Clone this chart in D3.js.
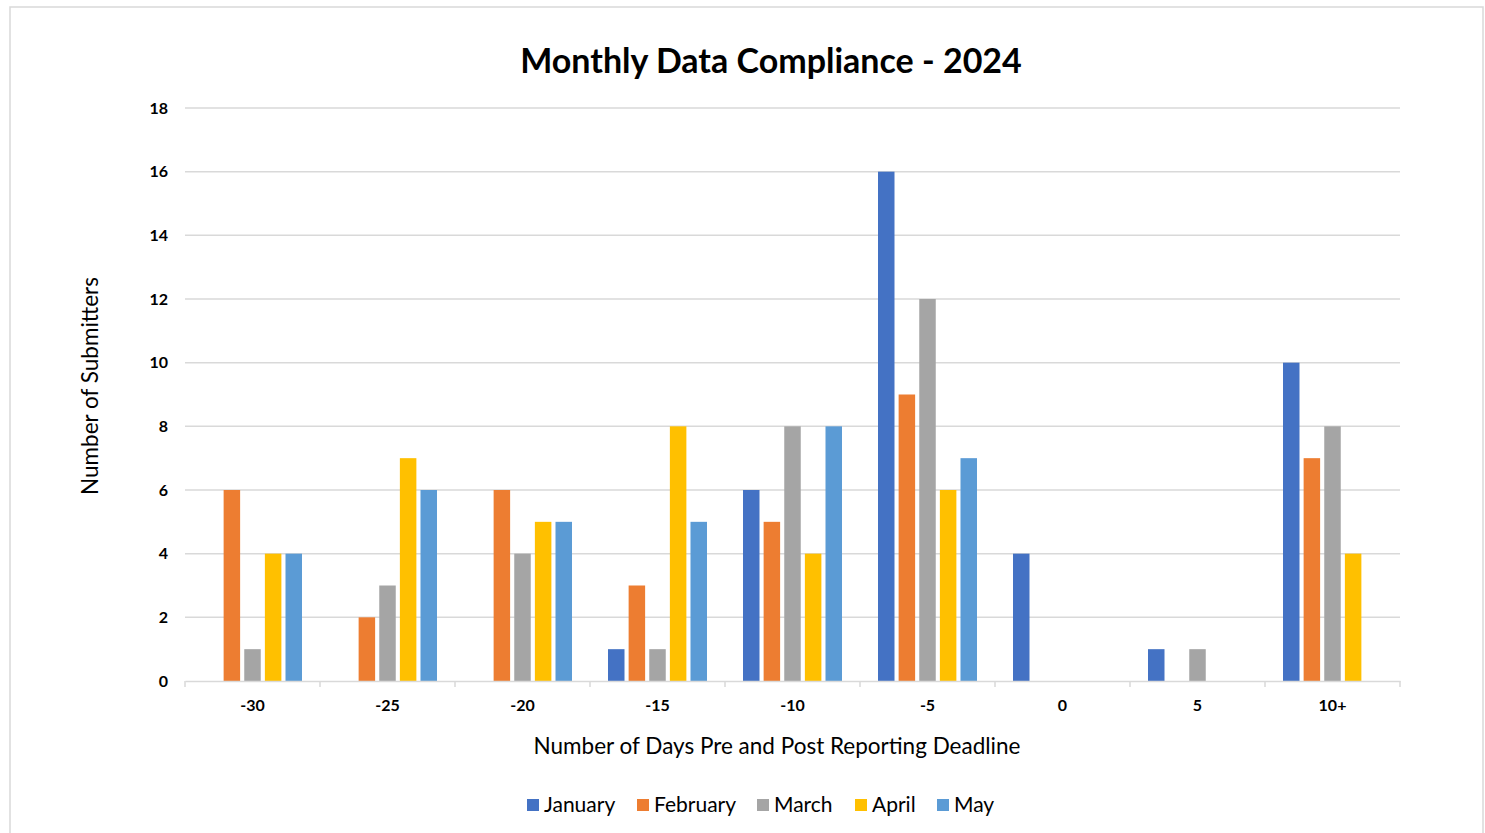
<!DOCTYPE html>
<html>
<head>
<meta charset="utf-8">
<script src="https://cdn.jsdelivr.net/npm/d3@7"></script>
<style>
  body { margin: 0; background: #fff; }
  text { font-family: Lato, "Open Sans", sans-serif; fill: #000; }
</style>
</head>
<body>
<svg id="drawing_region"></svg>
<script>
const categories = ['-30', '-25', '-20', '-15', '-10', '-5', '0', '5', '10+'];
const months = ['January', 'February', 'March', 'April', 'May'];
const january  = [0, 0, 0, 1, 6, 16, 4, 1, 10];
const february = [6, 2, 6, 3, 5, 9, 0, 0, 7];
const march    = [1, 3, 4, 1, 8, 12, 0, 1, 8];
const april    = [4, 7, 5, 8, 4, 6, 0, 0, 4];
const may      = [4, 6, 5, 5, 8, 7, 0, 0, 0];
const yticks = [0, 2, 4, 6, 8, 10, 12, 14, 16, 18];
const colors = ['#4472C4', '#ED7D31', '#A5A5A5', '#FFC000', '#5B9BD5'];

const series = [january, february, march, april, may];

const config = {
  width: 1485,
  height: 833,
  margin: {top: 108, right: 85, bottom: 152, left: 185}
};

const svg = d3.select('#drawing_region')
    .attr('width', config.width)
    .attr('height', config.height);

// outer frame
svg.append('rect')
    .attr('x', 10).attr('y', 7)
    .attr('width', 1473).attr('height', 840)
    .attr('fill', 'none')
    .attr('stroke', '#d9d9d9')
    .attr('stroke-width', 1.5);

const inner_width = config.width - config.margin.left - config.margin.right;
const inner_height = config.height - config.margin.top - config.margin.bottom;

const chart = svg.append('g')
    .attr('transform', `translate(${config.margin.left}, ${config.margin.top})`);

const xscale = d3.scaleBand()
    .domain(categories)
    .range([0, inner_width])
    .padding(0);

const inner_pad = 18;
const x1 = d3.scaleBand()
    .domain(months)
    .range([inner_pad, xscale.bandwidth() - inner_pad])
    .paddingInner(0.2);

const yscale = d3.scaleLinear()
    .domain([0, 18])
    .range([inner_height, 0]);

// gridlines
chart.append('g')
    .selectAll('line')
    .data(yticks.filter(d => d > 0))
    .join('line')
    .attr('x1', 0).attr('x2', inner_width)
    .attr('y1', d => yscale(d)).attr('y2', d => yscale(d))
    .attr('stroke', '#d9d9d9')
    .attr('stroke-width', 1.5);

// y axis labels
const yaxis = d3.axisLeft(yscale)
    .tickValues(yticks)
    .tickSize(0)
    .tickPadding(17);
const yaxis_group = chart.append('g').call(yaxis);
yaxis_group.select('.domain').remove();
yaxis_group.selectAll('text')
    .style('font-size', '16px')
    .style('font-weight', 'bold');

// bars
const groups = chart.append('g')
    .selectAll('g')
    .data(categories)
    .join('g')
    .attr('transform', d => `translate(${xscale(d)}, 0)`);

groups.selectAll('rect')
    .data((c, i) => months.map((m, j) => ({month: m, value: series[j][i], color: colors[j]})))
    .join('rect')
    .attr('x', d => x1(d.month))
    .attr('y', d => yscale(d.value))
    .attr('width', x1.bandwidth())
    .attr('height', d => yscale(0) - yscale(d.value))
    .attr('fill', d => d.color);

// x axis
const xaxis = d3.axisBottom(xscale)
    .tickSize(0)
    .tickPadding(19);
const xaxis_group = chart.append('g')
    .attr('transform', `translate(0, ${inner_height})`)
    .call(xaxis);
xaxis_group.select('.domain')
    .attr('stroke', '#d9d9d9')
    .attr('stroke-width', 1.5);
xaxis_group.selectAll('text')
    .style('font-size', '16px')
    .style('font-weight', 'bold');

// band boundary ticks
xaxis_group.append('g')
    .selectAll('line')
    .data(categories.map(c => xscale(c)).concat([inner_width]))
    .join('line')
    .attr('x1', d => d).attr('x2', d => d)
    .attr('y1', 0).attr('y2', 6)
    .attr('stroke', '#d9d9d9')
    .attr('stroke-width', 1.5);

// title
svg.append('text')
    .attr('x', 771).attr('y', 73)
    .attr('text-anchor', 'middle')
    .style('font-size', '34px')
    .style('font-weight', 'bold')
    .text('Monthly Data Compliance - 2024');

// axis titles
svg.append('text')
    .attr('transform', 'translate(98, 386) rotate(-90)')
    .attr('text-anchor', 'middle')
    .style('font-size', '22.5px')
    .text('Number of Submitters');

svg.append('text')
    .attr('x', 777).attr('y', 754)
    .attr('text-anchor', 'middle')
    .style('font-size', '22.5px')
    .text('Number of Days Pre and Post Reporting Deadline');

// legend
const legendX = [527, 637, 757, 855, 937];
const legend = svg.append('g')
    .selectAll('g')
    .data(months)
    .join('g')
    .attr('transform', (d, i) => `translate(${legendX[i]}, 799)`);
legend.append('rect')
    .attr('width', 12).attr('height', 12)
    .attr('fill', (d, i) => colors[i]);
legend.append('text')
    .attr('x', 17).attr('y', 13)
    .style('font-size', '21px')
    .text(d => d);
</script>
</body>
</html>
